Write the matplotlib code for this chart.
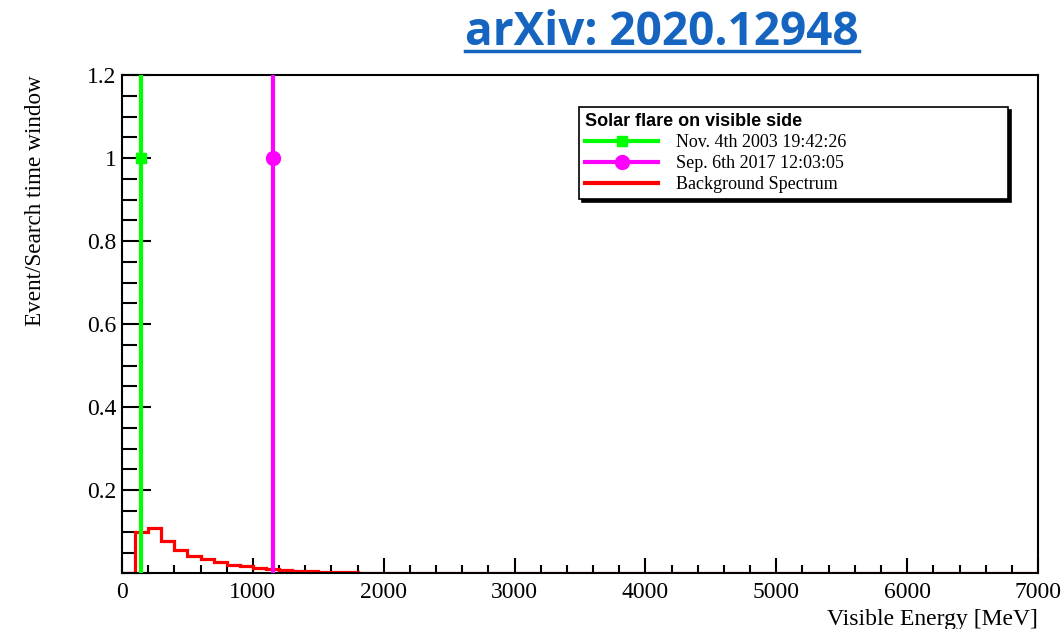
import numpy as np
import matplotlib
matplotlib.use("Agg")
import matplotlib.pyplot as plt
from matplotlib.lines import Line2D
from matplotlib.ticker import MultipleLocator, FuncFormatter

# background spectrum, 100 MeV bins from 0 to 7000 MeV
bin_edges = np.arange(0, 7100, 100)
bkg_counts = [
    0.0, 0.100, 0.108, 0.078, 0.057, 0.042, 0.035, 0.027, 0.021, 0.017,
    0.013, 0.010, 0.008, 0.006, 0.005, 0.004, 0.003, 0.002, 0.0015, 0.001,
    0.0008, 0.0006, 0.0005, 0.0004, 0.0003, 0.0003, 0.0002, 0.0002, 0.0001, 0.0001,
    0.0001, 0.0001, 0.0, 0.0, 0.0, 0.0, 0.0, 0.0, 0.0, 0.0,
    0.0, 0.0, 0.0, 0.0, 0.0, 0.0, 0.0, 0.0, 0.0, 0.0,
    0.0, 0.0, 0.0, 0.0, 0.0, 0.0, 0.0, 0.0, 0.0, 0.0,
    0.0, 0.0, 0.0, 0.0, 0.0, 0.0, 0.0, 0.0, 0.0, 0.0,
]

# solar flare events
flare_labels = ["Nov. 4th 2003 19:42:26", "Sep. 6th 2017 12:03:05"]
flare_energy = [145, 1150]
flare_ratio = [1.0, 1.0]
flare_colors = ["#00ff00", "#ff00ff"]
flare_markers = ["s", "o"]

serif = "Liberation Serif"

fig = plt.figure(figsize=(10.64, 6.29), dpi=100)
ax = fig.add_axes([0.1147, 0.0886, 0.8609, 0.7922])

ax.stairs(bkg_counts, bin_edges, color="#ff0000", lw=2.3, baseline=0,
          label="Background Spectrum", zorder=2)

handles = []
for e, r, c, m, lab in zip(flare_energy, flare_ratio, flare_colors, flare_markers, flare_labels):
    ax.axvline(e, color=c, lw=3, zorder=3)
    if m == "s":
        ax.errorbar([e], [r], xerr=[[22], [22]], fmt="s", color=c, ms=7,
                    elinewidth=5, capsize=0, zorder=4)
    else:
        ax.plot([e], [r], marker=m, color=c, ms=10, zorder=4)
    handles.append(Line2D([], [], color=c, lw=3, marker=m,
                          ms=7 if m == "s" else 10, label=lab))
handles.append(Line2D([], [], color="#ff0000", lw=3, label="Background Spectrum"))

ax.set_xlim(0, 7000)
ax.set_ylim(0, 1.2)
ax.xaxis.set_major_locator(MultipleLocator(1000))
ax.xaxis.set_minor_locator(MultipleLocator(200))
ax.yaxis.set_major_locator(MultipleLocator(0.2))
ax.yaxis.set_minor_locator(MultipleLocator(0.05))
ax.yaxis.set_major_formatter(FuncFormatter(lambda v, p: "" if v < 0.01 else f"{v:g}"))

ax.tick_params(axis="x", which="major", direction="in", length=11, width=1.5, pad=6)
ax.tick_params(axis="x", which="minor", direction="in", length=5.5, width=1.5)
ax.tick_params(axis="y", which="major", direction="in", length=21, width=1.5, pad=4)
ax.tick_params(axis="y", which="minor", direction="in", length=11, width=1.5)
for lbl in ax.get_xticklabels() + ax.get_yticklabels():
    lbl.set_fontfamily(serif)
    lbl.set_fontsize(17)
for s in ax.spines.values():
    s.set_linewidth(1.5)

ax.set_xlabel("Visible Energy [MeV]", fontfamily=serif, fontsize=17, loc="right")
ax.set_ylabel("Event/Search time window", fontfamily=serif, fontsize=16.7, loc="top")
ax.xaxis.set_label_coords(1.0, -0.072)
ax.yaxis.set_label_coords(-0.083, 1.0)

leg = ax.legend(handles=handles, loc="upper left",
                bbox_to_anchor=(0.499, 0.936, 0.468, 0.0), mode="expand", borderaxespad=0,
                prop={"family": serif, "size": 13}, title="Solar flare on visible side",
                title_fontproperties={"family": "Liberation Sans", "weight": "bold", "size": 13},
                alignment="left", fancybox=False, framealpha=1, edgecolor="black",
                handlelength=4, handletextpad=1.0, labelspacing=0.22, borderpad=0.35,
                shadow={"ox": 2, "oy": -2, "color": "black", "alpha": 1})
leg.get_frame().set_linewidth(1.2)

title = fig.text(662 / 1064, 1 - 45 / 629, "arXiv: 2020.12948", ha="center", va="baseline",
                 fontfamily="Open Sans", fontweight="bold", fontsize=33, color="#1565c0")
fig.canvas.draw()
bb = title.get_window_extent()
fig.add_artist(Line2D([bb.x0 / 1064, bb.x1 / 1064], [(629 - 51) / 629] * 2,
                      transform=fig.transFigure, color="#1565c0", lw=2.5))

fig.savefig("out.png", dpi=100)
